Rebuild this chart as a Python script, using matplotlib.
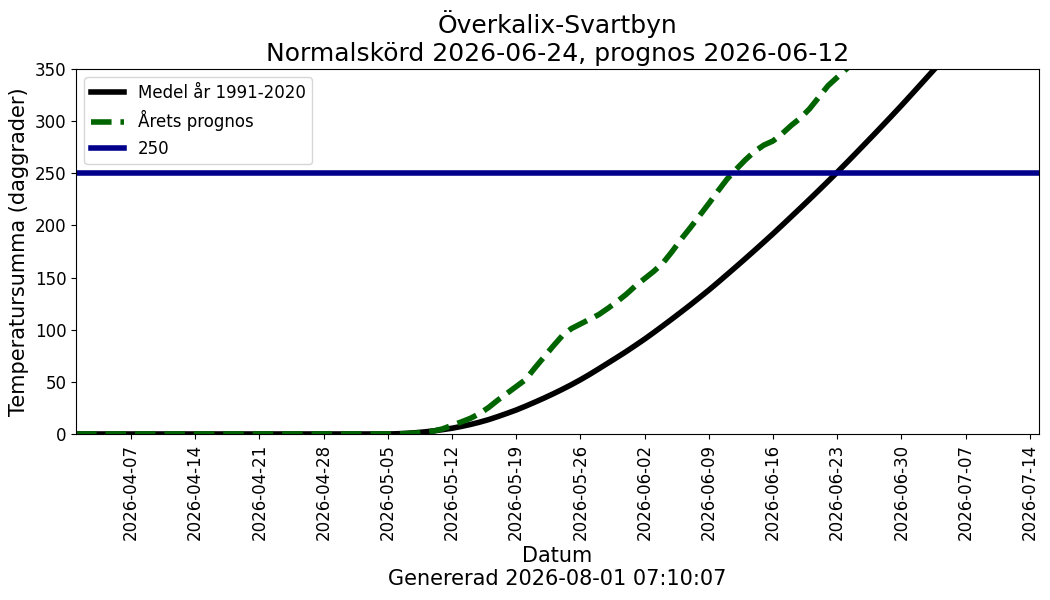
import matplotlib
matplotlib.use('Agg')
import matplotlib.pyplot as plt
import matplotlib.dates as mdates
import pandas as pd
import numpy as np

# dagar från 2026-04-01 till 2026-07-15
datum = pd.date_range('2026-04-01', '2026-07-15', freq='D')

# medel 1991-2020, nollor t.o.m. 2026-05-05 (34 dagar + 05-05)
medel = [0.0] * 34 + [
    0.0, 0.2, 0.6, 1.2, 2.0, 3.0, 4.2, 5.5, 7.2, 9.1, 11.3, 13.8, 16.7, 19.8,
    23.0, 26.6, 30.4, 34.3, 38.4, 42.7, 47.2, 52.0, 57.1, 62.5, 68.0, 73.5,
    79.1, 85.0, 91.0, 97.3, 103.8, 110.4, 117.1, 123.9, 130.9, 138.0, 145.4,
    153.0, 160.6, 168.3, 176.1, 184.0, 192.0, 200.2, 208.5, 216.8, 225.2,
    233.7, 242.3, 251.0, 259.9, 268.9, 278.0, 287.1, 296.3, 305.6, 315.0,
    324.6, 334.3, 344.0, 353.7, 363.5, 373.3, 383.0, 393.0, 403.0, 413.1,
    423.2, 433.4, 443.6, 454.0, 464.3]

# årets prognos (slutar 2026-06-26)
prognos = [0.0] * 34 + [
    0.0, 0.1, 0.4, 0.9, 1.6, 2.8, 5.0, 8.3, 11.5, 15.0, 19.5, 25.5, 32.5,
    39.0, 45.5, 52.0, 63.0, 73.5, 84.0, 94.0, 101.0, 105.5, 110.0, 114.5,
    120.5, 127.0, 134.0, 142.0, 149.0, 156.0, 164.0, 175.0, 187.0, 198.0,
    209.5, 221.0, 233.0, 244.5, 254.0, 263.0, 271.0, 277.0, 281.0, 288.0,
    296.0, 303.0, 312.0, 323.0, 334.0, 342.0, 350.0, 358.0, 366.0]

grans = 250

fig, ax = plt.subplots(figsize=(10.5, 6), dpi=100)
fig.subplots_adjust(left=0.0724, right=0.9895, top=0.885, bottom=0.2767)

ax.plot(datum, medel, color='black', lw=4, label='Medel år 1991-2020')
ax.plot(datum[:len(prognos)], prognos, color='darkgreen', lw=4, ls='--', label='Årets prognos')
ax.axhline(grans, color='darkblue', lw=4, label=str(grans))

ax.set_xlim(datum[0], datum[-1])
ax.set_ylim(0, 350)
ax.xaxis.set_major_locator(mdates.WeekdayLocator(byweekday=mdates.TU))
ax.xaxis.set_major_formatter(mdates.DateFormatter('%Y-%m-%d'))
ax.tick_params(axis='x', labelrotation=90, labelsize=12)
ax.tick_params(axis='y', labelsize=12)

ax.set_title('Överkalix-Svartbyn\nNormalskörd 2026-06-24, prognos 2026-06-12', fontsize=18)
ax.set_xlabel('Datum\nGenererad 2026-08-01 07:10:07', fontsize=15)
ax.set_ylabel('Temperatursumma (daggrader)', fontsize=15)
ax.legend(loc='upper left', fontsize=12)

fig.savefig('out.png')
